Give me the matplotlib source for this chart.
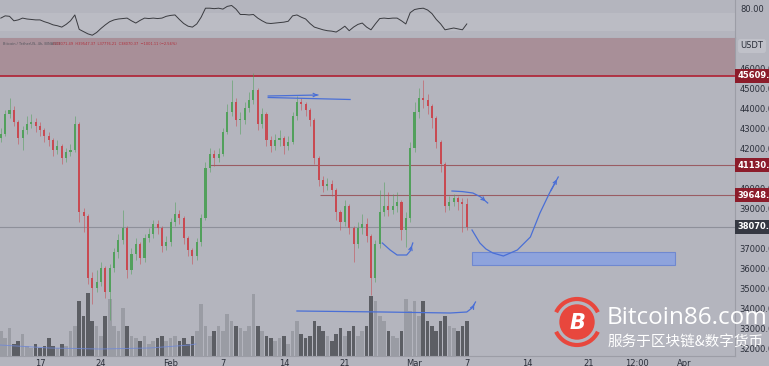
import matplotlib
matplotlib.use('Agg')
import matplotlib.pyplot as plt
import matplotlib.transforms as mtransforms
from matplotlib.patches import Rectangle, Circle, Arc
import numpy as np

# ---------------- data ----------------
# 12h candles, x = days from Jan 17 00:00
first_open = 42500
closes = [42700, 43700, 43900, 43300, 42500, 42900, 43200, 43300, 43100, 42900,
          42600, 42400, 41900, 42100, 41500, 41800, 41900, 43200, 38800, 38600,
          35500, 35000, 35300, 36000, 34800, 36000, 36800, 37400, 38000, 35900,
          36700, 37200, 36500, 37500, 37700, 38200, 38000, 37100, 37300, 38300,
          38700, 38500, 37500, 36900, 36600, 37300, 38500, 41000, 41700, 41500,
          41700, 42800, 43800, 44300, 43400, 43400, 44000, 44400, 44900, 43200,
          43700, 42400, 42100, 42400, 42500, 42100, 42300, 43600, 44300, 44200,
          43900, 43400, 41500, 40400, 40100, 40200, 39900, 38800, 38300, 39100,
          38000, 37200, 38000, 38200, 37600, 35500, 37200, 38800, 39100, 38900,
          39100, 39300, 37900, 38500, 42000, 43800, 44500, 44400, 44100, 43500,
          42300, 41200, 39100, 39300, 39500, 39300, 39200, 38070]
highs = [43000, 43900, 44500, 44100, 43400, 43100, 43600, 43700, 43500, 43300,
         43000, 42800, 42500, 42400, 42200, 42000, 42200, 43600, 43300, 39000,
         38700, 35800, 35900, 36300, 36100, 36200, 37000, 37700, 38900, 38100,
         37000, 37500, 37300, 37700, 38000, 38400, 38400, 38100, 37600, 38500,
         39300, 38900, 38600, 37600, 37000, 37500, 38700, 41300, 42000, 41900,
         42000, 43000, 44200, 45400, 44500, 43800, 44300, 44800, 45750, 45000,
         44000, 43800, 42600, 42700, 42900, 42600, 42600, 43800, 44600, 44500,
         44300, 44000, 43500, 41600, 40600, 40500, 40400, 40000, 38900, 39400,
         39200, 38100, 38300, 38700, 38500, 37700, 37400, 39900, 40300, 39800,
         39700, 39800, 39400, 38800, 42300, 44300, 45000, 45400, 44700, 44200,
         43600, 42400, 41300, 39600, 39700, 39600, 39500, 39500]
lows = [42300, 42600, 43500, 43100, 42200, 41900, 42700, 43000, 42800, 42600,
        42300, 42100, 41600, 41700, 41200, 41300, 41600, 41800, 38300, 37800,
        35200, 34200, 34800, 35100, 34500, 33400, 35800, 36500, 37200, 35500,
        35700, 36400, 36200, 36300, 37300, 37500, 37700, 36800, 36900, 37100,
        38100, 38200, 37200, 36600, 36200, 36400, 37100, 38400, 40800, 41100,
        41300, 41600, 42700, 43600, 43100, 42700, 43200, 43800, 44200, 42900,
        43000, 42100, 41800, 41900, 42100, 41700, 41900, 42200, 43400, 43900,
        43600, 43100, 41200, 40100, 39800, 39900, 39600, 38400, 37900, 38100,
        37700, 36300, 37000, 37700, 37300, 34650, 35300, 37000, 38600, 38600,
        38700, 38800, 37400, 37050, 38300, 41800, 43500, 44000, 43700, 43000,
        42000, 40800, 38800, 38900, 39100, 38900, 37800, 37900]
volumes = [25, 18, 28, 12, 15, 22, 10, 8, 12, 8, 10, 18, 10, 8, 12, 10, 25, 30,
           55, 40, 63, 35, 30, 20, 40, 57, 30, 25, 48, 30, 20, 18, 15, 20, 12,
           15, 18, 20, 15, 18, 20, 15, 18, 12, 20, 25, 52, 30, 20, 25, 30, 25,
           42, 35, 30, 28, 25, 30, 62, 30, 25, 20, 18, 15, 18, 20, 12, 25, 35,
           22, 18, 20, 35, 30, 25, 20, 15, 22, 28, 20, 25, 30, 20, 25, 30, 60,
           55, 40, 35, 25, 20, 18, 25, 57, 45, 55, 40, 55, 35, 30, 25, 35, 40,
           30, 28, 25, 30, 35]
rsi = [58, 63, 62, 52, 54, 58, 56, 55, 54, 54, 50, 47, 43, 41, 38, 44, 52, 65,
       33, 28, 23, 20, 26, 35, 43, 50, 54, 56, 57, 58, 52, 47, 53, 58, 57, 58,
       57, 58, 62, 64, 65, 55, 46, 40, 38, 45, 60, 80, 80, 79, 80, 78, 84, 86,
       78, 66, 66, 65, 66, 58, 52, 47, 46, 47, 48, 49, 51, 63, 65, 60, 56, 46,
       38, 35, 32, 30, 29, 27, 33, 40, 30, 38, 44, 47, 38, 32, 45, 57, 58, 57,
       58, 58, 52, 45, 70, 77, 79, 80, 76, 68, 55, 45, 32, 34, 36, 34, 32, 45]
start_day = -4.5
step_day = 0.5
days = start_day + step_day * np.arange(len(closes))
opens = [first_open] + closes[:-1]

level_zone = 45609.75
level_mid = 41130.60
level_low = 39648.14
last_price = 38070.37
zone_box = (36150, 36800)          # price range of blue box
zone_days = (49.6, 72.9)

price_ticks = [32000, 33000, 34000, 35000, 36000, 37000, 39000, 40000,
               42000, 43000, 44000, 45000, 46000]
date_pos = [0, 7, 15, 21, 28, 35, 43, 49, 56, 63, 68.5, 74]
date_labels = ['17', '24', 'Feb', '7', '14', '21', 'Mar', '7', '14', '21', '12:00', 'Apr']

# hand-drawn annotations (day, price)
ann_top_arrow = ([26.2, 31.9], [44600, 44650])
ann_top_line = ([26.2, 35.6], [44525, 44425])
ann_right_arrow = ([47.3, 48.5, 49.7, 50.6, 51.4], [39850, 39820, 39750, 39550, 39250])
ann_mid_curve = ([39.3, 40.2, 41.0, 42.1, 42.5, 42.8], [37250, 36900, 36650, 36650, 36850, 37250])
ann_big_curve = ([49.6, 50.5, 51.2, 52.0, 53.2, 54.8, 56.3, 57.4, 58.5, 59.5],
                 [37900, 37250, 36950, 36750, 36600, 36900, 37550, 38750, 39750, 40550])
ann_vol_line = ([29.5, 39.4, 47.1, 49.0, 49.6, 50.0], [45, 44, 43, 44, 48, 54])
vol_ma_line = ([-4.6, 1.1, 6.9, 12.6, 17.2, 17.9], [11, 8, 7, 8, 11, 12])

# ---------------- figure ----------------
W, H = 769, 366
BG = '#b4b5be'
fig = plt.figure(figsize=(W / 100, H / 100), dpi=100)
fig.patch.set_facecolor(BG)


def px_axes(x0, y0, x1, y1, **kw):
    return fig.add_axes([x0 / W, 1 - y1 / H, (x1 - x0) / W, (y1 - y0) / H], **kw)


XL = (-40 / 8.71, (735 - 40) / 8.71)
YL = (31600, 47500)

# RSI panel
ax_rsi = px_axes(0, 0, 735, 38)
ax_rsi.set_facecolor(BG)
ax_rsi.set_xlim(XL)
ax_rsi.set_ylim(13.8, 98.2)
ax_rsi.axhspan(30, 70, color='#bbbcc4', lw=0)
ax_rsi.plot(days, rsi, color='#3a3b40', lw=0.7)
ax_rsi.set_xticks([])
ax_rsi.yaxis.tick_right()
ax_rsi.set_yticks([80])
ax_rsi.set_yticklabels(['80.00'])
ax_rsi.tick_params(axis='y', length=0, pad=4, labelsize=6, labelcolor='#2a2e39')
for s in ax_rsi.spines.values():
    s.set_visible(False)
for side in ('right', 'bottom'):
    ax_rsi.spines[side].set_visible(True)
    ax_rsi.spines[side].set_color('#9c9da6')
    ax_rsi.spines[side].set_linewidth(0.8)

# volume axes (behind)
ax_vol = px_axes(0, 38, 735, 356)
ax_vol.set_facecolor(BG)
ax_vol.set_xlim(XL)
ax_vol.set_ylim(0, 318)
vcol = ['#9a9ca4' if c >= o else '#5c5e64' for o, c in zip(opens, closes)]
ax_vol.bar(days, volumes, width=0.42, color=vcol, lw=0)
ax_vol.plot(*vol_ma_line, color='#6f88d8', lw=0.7, alpha=0.8)
ax_vol.plot(*ann_vol_line, color='#4a6fd6', lw=0.9)
ax_vol.annotate('', xy=(50.0, 54), xytext=(49.7, 49),
                arrowprops=dict(arrowstyle='->', color='#4a6fd6', lw=0.9, mutation_scale=6))
ax_vol.axis('off')

# main price axes
ax = px_axes(0, 38, 735, 356)
ax.patch.set_visible(False)
ax.set_xlim(XL)
ax.set_ylim(YL)

ax.axhspan(level_zone, YL[1], color='#a88f98', lw=0, zorder=0)
ax.axhline(level_zone, color='#b02a3c', lw=1.3, zorder=1)
ax.hlines(level_mid, 19.5, XL[1], color='#9a5c63', lw=0.8, zorder=1)
ax.hlines(level_low, 32.1, XL[1], color='#9a5c63', lw=0.8, zorder=1)
ax.axhline(last_price, color='#8e909a', lw=0.8, zorder=1)

# candles
up = '#52a05c'
dn = '#c84a52'
ccol = [up if c >= o else dn for o, c in zip(opens, closes)]
ax.vlines(days, lows, highs, colors=ccol, lw=0.7, alpha=0.55, zorder=2)
bottoms = [min(o, c) for o, c in zip(opens, closes)]
heights = [max(abs(c - o), 60) for o, c in zip(opens, closes)]
ax.bar(days, heights, bottom=bottoms, width=0.24, color=ccol, lw=0, zorder=3)

# blue zone box
ax.add_patch(Rectangle((zone_days[0], zone_box[0]), zone_days[1] - zone_days[0],
                       zone_box[1] - zone_box[0], facecolor='#8ea3dc',
                       edgecolor='#6f88d0', lw=0.8, zorder=4))

BL = '#4a6fd6'
ap = dict(arrowstyle='->', color=BL, lw=0.9, mutation_scale=6)
ax.plot(*ann_top_arrow, color=BL, lw=0.9, zorder=5)
ax.annotate('', xy=(ann_top_arrow[0][-1], ann_top_arrow[1][-1]),
            xytext=(ann_top_arrow[0][-1] - 0.5, ann_top_arrow[1][-1]), arrowprops=ap)
ax.plot(*ann_top_line, color=BL, lw=0.9, zorder=5)
for xs, ys in (ann_right_arrow, ann_mid_curve, ann_big_curve):
    ax.plot(xs, ys, color=BL, lw=0.9, zorder=5)
    ax.annotate('', xy=(xs[-1], ys[-1]), xytext=(xs[-2], ys[-2]), arrowprops=ap)

# axes ticks
ax.yaxis.tick_right()
ax.set_yticks(price_ticks)
ax.set_yticklabels([f'{v:.2f}' for v in price_ticks])
ax.tick_params(axis='y', length=0, pad=3, labelsize=6, labelcolor='#2a2e39')
ax.set_xticks(date_pos)
ax.set_xticklabels(date_labels)
ax.tick_params(axis='x', length=0, pad=2.5, labelsize=6, labelcolor='#2a2e39')
for s in ax.spines.values():
    s.set_visible(False)
for side in ('right', 'bottom'):
    ax.spines[side].set_visible(True)
    ax.spines[side].set_color('#9c9da6')
    ax.spines[side].set_linewidth(0.8)

# price labels on axis
tr = mtransforms.blended_transform_factory(ax.transAxes, ax.transData)
for val, fc in ((level_zone, '#8c1c2b'), (level_mid, '#8c1c2b'),
                (level_low, '#8c1c2b'), (last_price, '#353842')):
    ax.text(1.003, val, f'{val:.2f}', transform=tr, ha='left', va='center',
            fontsize=6, color='white', fontweight='bold', clip_on=False, zorder=10,
            bbox=dict(boxstyle='square,pad=0.3', fc=fc, ec='none'))

# legend line
ax.text(0.004, 47200, 'Bitcoin / TetherUS, 4h, BINANCE', fontsize=2.6, color='#55565e',
        transform=tr, va='center', ha='left')
ax.text(0.072, 47200, 'O39071.49  H39547.37  L37776.21  C38070.37  \u22121001.11 (\u22122.56%)',
        fontsize=2.6, color='#b0303c', transform=tr, va='center', ha='left')

# overlay for watermark and unit box
ov = fig.add_axes([0, 0, 1, 1])
ov.set_xlim(0, W)
ov.set_ylim(H, 0)
ov.axis('off')
ov.patch.set_visible(False)
ov.text(752, 46, 'USDT', fontsize=6, color='#2a2e39', ha='center', va='center',
        bbox=dict(boxstyle='round,pad=0.3', fc='#c0c1c9', ec='none'))
cx, cy = 577, 322
ov.add_patch(Circle((cx, cy), 17, color='#e8473d', zorder=20))
ov.add_patch(Arc((cx, cy), 46, 46, theta1=25, theta2=155, color='#e8473d', lw=3, zorder=20))
ov.add_patch(Arc((cx, cy), 46, 46, theta1=205, theta2=335, color='#e8473d', lw=3, zorder=20))
ov.text(cx + 1, cy + 1, 'B', fontsize=15, color='white', fontweight='bold', style='italic',
        ha='center', va='center', zorder=21)
ov.text(607, 318, 'Bitcoin86.com', fontsize=17.5, color='white', ha='left', va='center',
        family=['Open Sans', 'DejaVu Sans'], zorder=21)
ov.text(608, 342, '服务于区块链&数字货币', fontsize=10.5, color='white', ha='left', va='center',
        family=['Noto Sans CJK SC', 'DejaVu Sans'], zorder=21)

fig.savefig('out.png', dpi=100, facecolor=BG)
